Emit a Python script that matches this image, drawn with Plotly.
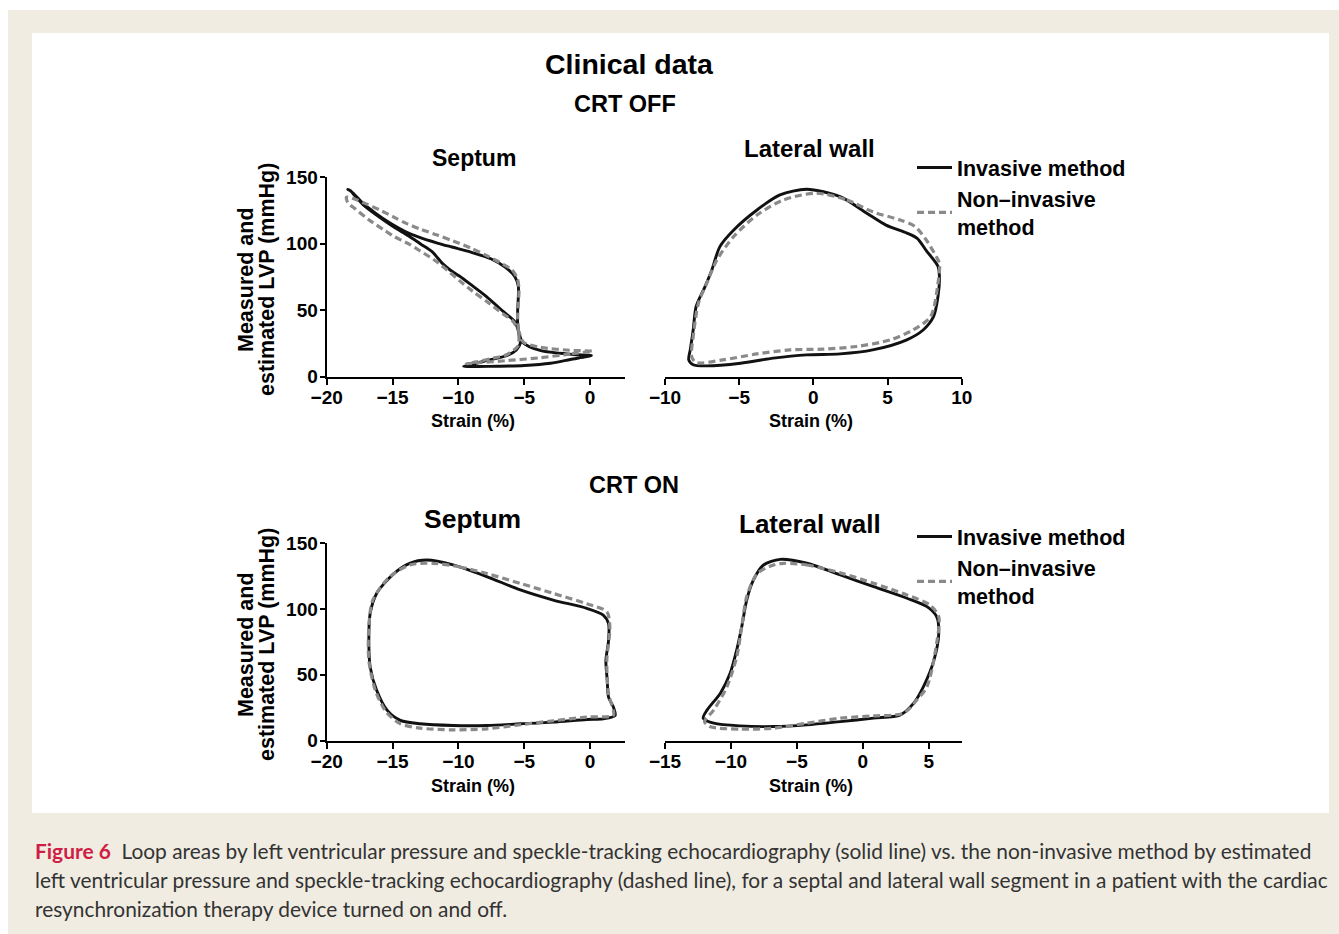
import plotly.graph_objects as go

# ---------------- DATA ----------------
# CRT OFF, septum
sep_off_inv_x = [0.1, -1.5, -3.0, -5.0, -7.0, -8.5, -9.6, -9.0, -8.35, -7.2, -6.3, -5.6, -5.3, -5.4, -5.5,
                 -5.5, -5.45, -5.45, -5.7, -6.4, -7.5, -9.0, -10.5, -11.6, -12.9, -14.0, -15.1, -16.3, -17.4, -18.1, -18.4,
                 -18.2, -17.9, -17.2, -16.0, -14.9, -13.8, -12.9, -12.0, -11.2, -10.6, -9.9, -8.9, -7.85, -6.6, -5.7,
                 -5.4, -5.15, -3.8, -1.3, 0.1]
sep_off_inv_y = [15.8, 12.8, 10.0, 8.3, 7.7, 7.5, 7.5, 8.5, 10.8, 13.5, 15.8, 20.0, 25.0, 32, 40,
                 50, 60, 68, 75, 82, 88.5, 93.5, 97.5, 100.5, 104.5, 109, 115, 123, 132, 139, 141,
                 140, 136.5, 129, 120, 112.5, 106, 100, 94, 85, 80, 75.5, 68, 60, 49, 41,
                 33, 26, 19.6, 16.6, 15.8]
sep_off_non_x = [0.2, -1.5, -3.8, -6.3, -8.9, -9.4, -8.6, -7.6, -6.3, -5.45, -5.4, -5.45, -5.5, -5.45, -5.4,
                 -5.5, -5.9, -6.6, -7.85, -9.0, -10.4, -11.6, -12.9, -14.0, -14.9, -16.0, -17.0, -18.0, -18.5,
                 -18.4, -17.8, -16.8, -15.6, -14.9, -13.8, -12.9, -11.8, -10.6, -9.9, -8.9, -7.85, -6.6, -5.9,
                 -5.5, -5.3, -5.07, -3.8, -1.28, 0.2]
sep_off_non_y = [19.1, 17.0, 14.1, 12.0, 10.0, 9.6, 11.0, 13.3, 16.6, 23.4, 29, 35, 45, 55, 65,
                 73, 80, 84.5, 91, 96.5, 102, 106.5, 111, 115.5, 120, 125.5, 130, 134, 135,
                 131, 126, 118, 110, 105.5, 100, 94.5, 87.5, 78, 72, 64, 56.5, 47, 42,
                 36, 31, 25.9, 22.0, 19.6, 19.1]

# CRT OFF, lateral wall
lat_off_inv_x = [-0.45, 1.8, 3.6, 4.9, 6.3, 7.0, 7.6, 8.4, 8.5, 8.4, 8.1, 7.4, 6.3, 4.0, 1.8, -0.45, -2.7,
                 -4.9, -7.2, -8.1, -8.4, -8.3, -8.1, -7.9, -7.3, -6.85, -6.3, -5.4, -3.8, -2.25, -0.45]
lat_off_inv_y = [141, 135.4, 123, 114, 108, 104, 95, 83, 75, 60, 45, 35, 27.6, 20, 17, 16.3, 13.8,
                 10, 8, 8.8, 12.5, 20, 35, 52.7, 67.7, 80, 97.8, 110, 125.4, 136.7, 141]
lat_off_non_x = [0.2, 2.25, 4.0, 5.8, 6.85, 7.6, 8.3, 8.5, 8.4, 7.9, 6.7, 5.2, 2.9, 0.67, -1.6, -3.8,
                 -6.1, -7.9, -8.2, -8.1, -7.75, -7.2, -6.5, -5.4, -3.8, -2.0, 0.2]
lat_off_non_y = [138, 133, 124, 118, 113, 103, 90, 85, 70, 45, 35, 27.6, 22.6, 20.6, 20, 17,
                 12.5, 10.5, 15, 30, 55, 70, 87.8, 105, 121.6, 133, 138]

# CRT ON, septum
sep_on_inv_x = [-12.4, -10.4, -7.85, -5.3, -2.8, -0.25, 1.0, 1.4, 1.4, 1.2, 1.3, 1.4, 1.77, 1.9, 1.0, -0.25,
                -2.8, -5.3, -7.85, -10.4, -12.9, -14.4, -15.4, -16.2, -16.7, -16.8, -16.7, -16.2, -14.9, -13.7, -12.4]
sep_on_inv_y = [137.3, 133.6, 124.7, 114.5, 106.8, 100.5, 95.4, 89, 76, 61, 45.8, 33, 25.4, 19, 16.5, 16,
                14, 12.7, 11.4, 11.4, 12.7, 15.3, 22.9, 38, 56, 76, 96.6, 112, 127, 134.8, 137.3]
sep_on_non_x = [-11.9, -9.9, -7.85, -5.3, -2.8, -0.25, 1.27, 1.5, 1.27, 1.4, 1.77, 1.77, -0.25, -2.8,
                -5.3, -7.85, -10.4, -12.9, -14.4, -15.5, -16.3, -16.8, -16.8, -16.5, -15.2, -13.7, -11.9]
sep_on_non_y = [134.8, 132, 127, 119.5, 111.9, 104, 97.9, 86, 61, 35.6, 22.9, 19, 17.8, 15,
                12, 8.9, 8.1, 9.4, 12.7, 22, 38, 61, 86, 106.8, 124.6, 133.5, 134.8]

# CRT ON, lateral wall
lat_on_inv_x = [-6.27, -4.24, -1.7, 0.82, 3.35, 4.87, 5.6, 5.76, 5.4, 4.6, 3.86, 2.85, 0.82, -1.7, -4.24,
                -6.77, -9.3, -11.3, -12.1, -11.8, -10.8, -10.06, -9.56, -9.18, -8.8, -8.3, -7.53, -6.27]
lat_on_inv_y = [137.8, 134.8, 125.9, 117, 108.2, 101.8, 94.2, 81.6, 61.3, 41, 28.4, 19.5, 17, 14.4, 11.9,
                10.6, 11.1, 13.2, 17, 23.3, 36, 51.2, 68.9, 86.6, 107, 122, 133.5, 137.8]
lat_on_non_x = [-6.0, -4.24, -1.7, 0.82, 3.35, 5.1, 5.76, 5.6, 4.87, 4.1, 3.1, 0.82, -1.7, -4.24, -6.77,
                -9.3, -11.6, -12.0, -11.3, -10.3, -9.56, -9.18, -8.8, -8.0, -6.77, -6.0]
lat_on_non_y = [134.8, 133.5, 127.5, 119.6, 110.7, 103, 94, 74, 41, 30.9, 20.8, 18.7, 17, 13.2, 9.4,
                8.6, 10.6, 14.4, 23.3, 41, 63.8, 86.6, 109.5, 127, 133.5, 134.8]

y_ticks = [0, 50, 100, 150]
x_ticks_sep = [-20, -15, -10, -5, 0]
x_ticks_lat_off = [-10, -5, 0, 5, 10]
x_ticks_lat_on = [-15, -10, -5, 0, 5]

name_inv = "Invasive method"
name_non = "Non\u2013invasive<br>method"

# ---------------- FIGURE ----------------
W, H = 1339, 934
FONT = "Liberation Sans, Arial, sans-serif"
INV_COLOR = "#111111"
NON_COLOR = "#8a8a8a"


def px(x):
    return x / W


def py(y):
    return 1 - y / H


fig = go.Figure()

panels = [
    (sep_off_inv_x, sep_off_inv_y, sep_off_non_x, sep_off_non_y, "x", "y", "legend"),
    (lat_off_inv_x, lat_off_inv_y, lat_off_non_x, lat_off_non_y, "x2", "y2", "legend"),
    (sep_on_inv_x, sep_on_inv_y, sep_on_non_x, sep_on_non_y, "x3", "y3", "legend2"),
    (lat_on_inv_x, lat_on_inv_y, lat_on_non_x, lat_on_non_y, "x4", "y4", "legend2"),
]
for i, (ix, iy, nx, ny, xa, ya, lg) in enumerate(panels):
    show = i in (0, 2)
    fig.add_trace(go.Scatter(x=ix, y=iy, mode="lines", xaxis=xa, yaxis=ya,
                             line=dict(color=INV_COLOR, width=2.9, shape="spline", smoothing=0.8),
                             name=name_inv, showlegend=show, legend=lg, legendrank=1))
    fig.add_trace(go.Scatter(x=nx, y=ny, mode="lines", xaxis=xa, yaxis=ya,
                             line=dict(color=NON_COLOR, width=3.2, dash="7px,4px", shape="spline", smoothing=0.8),
                             name=name_non, showlegend=show, legend=lg, legendrank=2))

tickfont = dict(family=FONT, size=19, color="black", weight="bold")
common_x = dict(showline=True, linecolor="black", linewidth=2.2, ticks="outside", ticklen=6, tickwidth=2.2,
                tickcolor="black", showgrid=False, zeroline=False, tickfont=tickfont, fixedrange=True,
                ticklabelstandoff=-3, automargin=False)
common_y = dict(showline=True, linecolor="black", linewidth=2.2, ticks="outside", ticklen=5, tickwidth=2.2,
                tickcolor="black", showgrid=False, zeroline=False, tickfont=tickfont, range=[0, 150],
                tickvals=y_ticks, fixedrange=True, automargin=False, ticklabelstandoff=-2)

xl = [px(326.7), px(625)]
xr = [px(665), px(961.7)]
yt = [py(376.5), py(177.3)]
yb = [py(740.5), py(543.3)]

fig.update_layout(
    template="none",
    xaxis=dict(common_x, domain=xl, range=[-20, 2.65], tickvals=x_ticks_sep, anchor="y"),
    yaxis=dict(common_y, domain=yt, anchor="x"),
    xaxis2=dict(common_x, domain=xr, range=[-10, 10], tickvals=x_ticks_lat_off, anchor="y2"),
    yaxis2=dict(domain=yt, range=[0, 150], visible=False, anchor="x2", fixedrange=True, automargin=False),
    xaxis3=dict(common_x, domain=xl, range=[-20, 2.65], tickvals=x_ticks_sep, anchor="y3"),
    yaxis3=dict(common_y, domain=yb, anchor="x3"),
    xaxis4=dict(common_x, domain=xr, range=[-15, 7.5], tickvals=x_ticks_lat_on, anchor="y4"),
    yaxis4=dict(domain=yb, range=[0, 150], visible=False, anchor="x4", fixedrange=True, automargin=False),
)

legend_common = dict(xanchor="left", yanchor="top", bgcolor="rgba(0,0,0,0)",
                     font=dict(family=FONT, size=21.5, color="black", weight="bold"),
                     itemwidth=35, tracegroupgap=0, traceorder="normal")
fig.update_layout(
    legend=dict(legend_common, x=px(912), y=py(147)),
    legend2=dict(legend_common, x=px(912), y=py(516)),
)

# backgrounds
fig.add_shape(type="rect", xref="paper", yref="paper", x0=px(8), x1=1, y0=0, y1=py(10),
              fillcolor="#F0ECE1", line_width=0, layer="below")
fig.add_shape(type="rect", xref="paper", yref="paper", x0=px(32), x1=px(1329), y0=py(813), y1=py(33),
              fillcolor="white", line_width=0, layer="below")


def ann(text, x, y, size, **kw):
    fig.add_annotation(text=text, x=px(x), y=py(y), xref="paper", yref="paper", showarrow=False,
                       xanchor=kw.pop("xanchor", "center"), yanchor=kw.pop("yanchor", "middle"),
                       font=dict(family=kw.pop("family", FONT), size=size, color=kw.pop("color", "black"),
                                 weight=kw.pop("weight", "bold")), **kw)


ann("Clinical data", 629, 64, 28.5)
ann("CRT OFF", 625, 104, 23.5)
ann("CRT ON", 634, 485, 23.5)
ann("Septum", 474, 158, 23)
ann("Lateral wall", 809, 149, 24)
ann("Septum", 472, 519, 26.5)
ann("Lateral wall", 810, 524, 26)
for yc in (280, 645):
    ann("Measured and", 246, yc, 21.5, textangle=-90)
    ann("estimated LVP (mmHg)", 267, yc, 21.5, textangle=-90)
for xc, yc in ((473, 421), (811, 421), (473, 786), (811, 786)):
    ann("Strain (%)", xc, yc, 18)

CAP = "Lato, 'Open Sans', sans-serif"
cap_lines = [
    "<span style='color:#cf1d45'><b>Figure 6</b></span>  Loop areas by left ventricular pressure and speckle-tracking echocardiography (solid line) vs. the non-invasive method by estimated",
    "left ventricular pressure and speckle-tracking echocardiography (dashed line), for a septal and lateral wall segment in a patient with the cardiac",
    "resynchronization therapy device turned on and off.",
]
for t, yc in zip(cap_lines, (850, 879, 908)):
    ann(t, 33, yc, 20.9, xanchor="left", family=CAP, color="#333333", weight="normal")

fig.update_layout(width=W, height=H, autosize=False, margin=dict(l=0, r=0, t=0, b=0, pad=0),
                  paper_bgcolor="white", plot_bgcolor="rgba(0,0,0,0)")

fig.write_html("out.html",
               post_script="document.body.style.margin='0';document.body.style.overflow='hidden';")
